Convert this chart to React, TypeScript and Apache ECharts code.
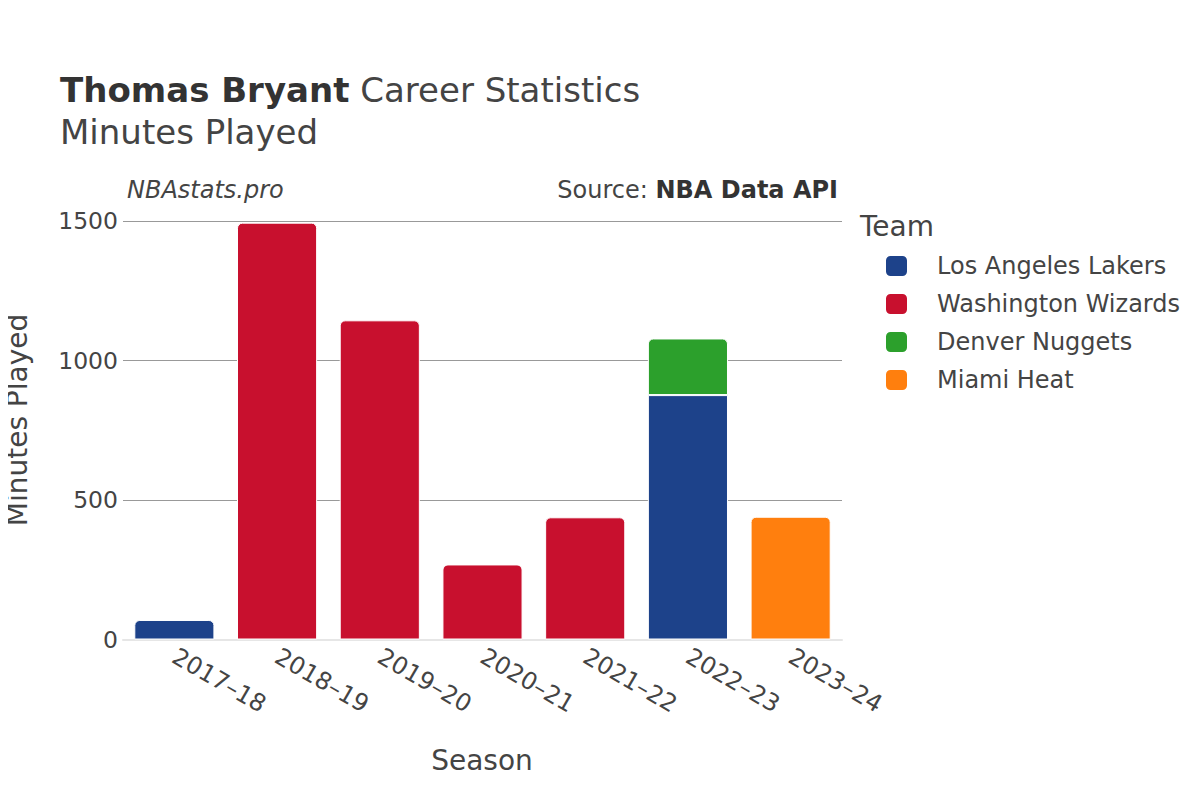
import React, { useEffect, useRef } from "react";
import * as echarts from "echarts";

const seasons = ["2017–18", "2018–19", "2019–20", "2020–21", "2021–22", "2022–23", "2023–24"];
const teams = ["Los Angeles Lakers", "Washington Wizards", "Denver Nuggets", "Miami Heat"];
const teamColors = ["#1D428A", "#C8102E", "#2CA02C", "#FF7F0E"];
const lakers = [70, null, null, null, null, 876, null];
const wizards = [null, 1494, 1144, 269, 438, null, null];
const nuggets = [null, null, null, null, null, 203, null];
const heat = [null, null, null, null, null, null, 440];
const yTicks = [0, 500, 1000, 1500];

const FONT = "DejaVu Sans";

export default function App() {
  const ref = useRef<HTMLDivElement>(null);
  useEffect(() => {
    if (!ref.current) return;
    const chart = echarts.init(ref.current, undefined, { renderer: "svg" });
    const values = [lakers, wizards, nuggets, heat];
    const topIdx = seasons.map((_, c) => {
      let t = -1;
      values.forEach((v, s) => {
        if (v[c] != null) t = s;
      });
      return t;
    });
    const series = teams.map((name, s) => ({
      name,
      type: "bar",
      stack: "total",
      barCategoryGap: "22%",
      itemStyle: { color: teamColors[s], borderColor: "#ffffff", borderWidth: 1 },
      data: values[s].map((v, c) =>
        v == null
          ? null
          : { value: v, itemStyle: { borderRadius: topIdx[c] === s ? [5, 5, 0, 0] : 0 } }
      ),
    }));
    chart.setOption({
      animation: false,
      textStyle: { fontFamily: FONT },
      grid: { left: 123, right: 358, top: 221, bottom: 160.5 },
      xAxis: {
        type: "category",
        data: seasons,
        axisTick: { show: false },
        axisLine: { show: true, lineStyle: { color: "#e6e6e6", width: 2 } },
        axisLabel: { rotate: -30, fontSize: 24, color: "#444", margin: 15, fontFamily: FONT },
      },
      yAxis: {
        type: "value",
        min: yTicks[0],
        max: yTicks[yTicks.length - 1],
        interval: 500,
        axisLine: { show: false },
        axisTick: { show: false },
        axisLabel: { fontSize: 23.5, color: "#444", margin: 5, fontFamily: FONT, formatter: (v: number) => String(v) },
        splitLine: { lineStyle: { color: ["#e6e6e6", "#999999", "#999999", "#999999"], width: 1 } },
      },
      legend: {
        orient: "vertical",
        left: 879,
        top: 249,
        icon: "roundRect",
        itemWidth: 23,
        itemHeight: 22,
        itemGap: 14,
        textStyle: { fontSize: 24, color: "#444", fontFamily: FONT, padding: [0, 0, 0, 24] },
        data: teams,
      },
      title: {
        text: "{b|Thomas Bryant}{n| Career Statistics}\n{s|Minutes Played}",
        left: 60,
        top: 68,
        padding: 0,
        textStyle: {
          fontWeight: "normal",
          rich: {
            b: { fontSize: 34, fontWeight: "bold", color: "#333", fontFamily: FONT, lineHeight: 44 },
            n: { fontSize: 34, fontWeight: "normal", color: "#444", fontFamily: FONT, lineHeight: 44 },
            s: { fontSize: 34, fontWeight: "normal", color: "#444", fontFamily: FONT, lineHeight: 40 },
          },
        },
      },
      graphic: [
        {
          type: "text",
          left: 127,
          top: 178,
          style: { text: "NBAstats.pro", fontSize: 24, fontStyle: "italic", fill: "#444", fontFamily: FONT },
        },
        {
          type: "text",
          right: 362,
          top: 178,
          style: {
            text: "{n|Source: }{b|NBA Data API}",
            rich: {
              n: { fontSize: 24, fill: "#444", fontFamily: FONT },
              b: { fontSize: 24, fontWeight: "bold", fill: "#333", fontFamily: FONT },
            },
          },
        },
        {
          type: "text",
          left: 860,
          top: 212,
          style: { text: "Team", fontSize: 28, fill: "#444", fontFamily: FONT },
        },
        {
          type: "text",
          x: 17,
          y: 420,
          rotation: Math.PI / 2,
          style: { text: "Minutes Played", fontSize: 28, fill: "#444", fontFamily: FONT, align: "center", verticalAlign: "middle" },
        },
        {
          type: "text",
          x: 482,
          y: 760,
          style: { text: "Season", fontSize: 28, fill: "#444", fontFamily: FONT, align: "center", verticalAlign: "middle" },
        },
      ],
      series,
    });
    return () => chart.dispose();
  }, []);
  return <div ref={ref} style={{ width: 1200, height: 800, margin: -8 }} />;
}
